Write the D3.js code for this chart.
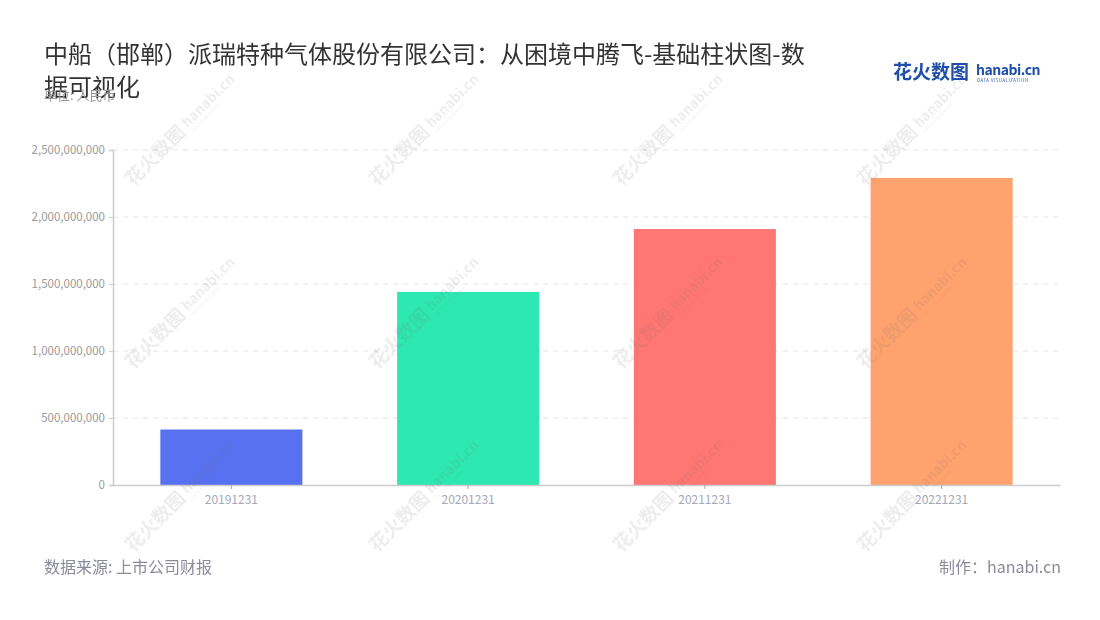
<!DOCTYPE html>
<html><head><meta charset="utf-8">
<script src="https://cdn.jsdelivr.net/npm/d3@7/dist/d3.min.js"></script>
<style>
body{margin:0;background:#fff;}
svg text{font-family:"Noto Sans CJK SC","Noto Sans",sans-serif;}
</style></head>
<body><svg id="c" width="1100" height="620"></svg>
<script>
const categories = ["20191231","20201231","20211231","20221231"];
const values = [414000000, 1441000000, 1910000000, 2291000000];
const colors = ["#5871f0","#2de8b2","#ff7672","#ffa26e"];
const yTicks = [0,500000000,1000000000,1500000000,2000000000,2500000000];
const titleLines = ["中船（邯郸）派瑞特种气体股份有限公司：从困境中腾飞-基础柱状图-数","据可视化"];

const svg = d3.select("#c");
const m = {left:113, right:1060, top:150, bottom:485};
const x = d3.scaleBand().domain(categories).range([m.left,m.right]).paddingInner(0.4).paddingOuter(0.2);
const y = d3.scaleLinear().domain([0,2500000000]).range([m.bottom,m.top]);

// grid
svg.append("g").selectAll("line").data(yTicks.slice(1)).join("line")
  .attr("x1",m.left).attr("x2",m.right).attr("y1",d=>y(d)).attr("y2",d=>y(d))
  .attr("stroke","#e3e3e3").attr("stroke-dasharray","5,5");

// bars
svg.append("g").selectAll("rect").data(values).join("rect")
  .attr("x",(d,i)=>x(categories[i])).attr("width",x.bandwidth())
  .attr("y",d=>y(d)).attr("height",d=>y(0)-y(d))
  .attr("fill",(d,i)=>colors[i]);

// y axis
const ya = svg.append("g").attr("transform",`translate(${m.left},0)`)
  .call(d3.axisLeft(y).tickValues(yTicks).tickFormat(d3.format(",")).tickSize(4).tickPadding(4));
ya.select(".domain").attr("stroke","#ccc").attr("stroke-width",1.5);
ya.selectAll(".tick line").attr("stroke","#ccc");
ya.selectAll("text").attr("fill","#999").attr("font-size",11.5);

// x axis
const xa = svg.append("g").attr("transform",`translate(0,${m.bottom})`)
  .call(d3.axisBottom(x).tickSize(4).tickPadding(6).tickSizeOuter(0));
xa.select(".domain").attr("stroke","#ccc").attr("stroke-width",1.5);
xa.selectAll(".tick line").attr("stroke","#aaa");
xa.selectAll("text").attr("fill","#a3a8b8").attr("font-size",12);

// watermark (on top, faint)
const wm = svg.append("g").attr("opacity",0.13).attr("pointer-events","none");
const wmPos = [];
for (let r=0;r<3;r++) for (let c=0;c<4;c++) wmPos.push([133+c*244, 187+r*183]);
wmPos.forEach(p=>{
  const g = wm.append("g").attr("transform",`translate(${p[0]},${p[1]}) rotate(-45)`);
  g.append("text").text("花火数图").attr("font-size",19).attr("font-weight","bold").attr("fill","#777");
  g.append("text").text("hanabi.cn").attr("x",80).attr("y",-3).attr("font-size",14).attr("font-weight","bold").attr("fill","#777");
  g.append("text").text("DATA VISUALIZATION").attr("x",81).attr("y",4).attr("font-size",4).attr("fill","#777");
});

// title
svg.append("g").selectAll("text").data(titleLines).join("text")
  .attr("x",44).attr("y",(d,i)=>63+i*33).text(d=>d)
  .attr("font-size",24).attr("fill","#333");
svg.append("text").attr("x",44).attr("y",100).text("单位: 人民币").attr("font-size",13).attr("fill","#999");

// logo
svg.append("text").attr("x",893).attr("y",79).text("花火数图").attr("font-size",19).attr("font-weight","bold").attr("fill","#1f4fa8");
svg.append("text").attr("x",976).attr("y",75).text("hanabi.cn").attr("font-size",14).attr("font-weight","bold").attr("fill","#1f4fa8").attr("letter-spacing",-0.5);
svg.append("text").attr("x",977).attr("y",82).text("DATA VISUALIZATION").attr("font-size",4.2).attr("fill","#1f4fa8").attr("letter-spacing",0.6);

// footer
svg.append("text").attr("x",44).attr("y",573).text("数据来源: 上市公司财报").attr("font-size",16).attr("fill","#8a8a9a");
svg.append("text").attr("x",1061).attr("y",573).attr("text-anchor","end").text("制作：hanabi.cn").attr("font-size",16).attr("fill","#8a8a9a");
</script></body></html>
